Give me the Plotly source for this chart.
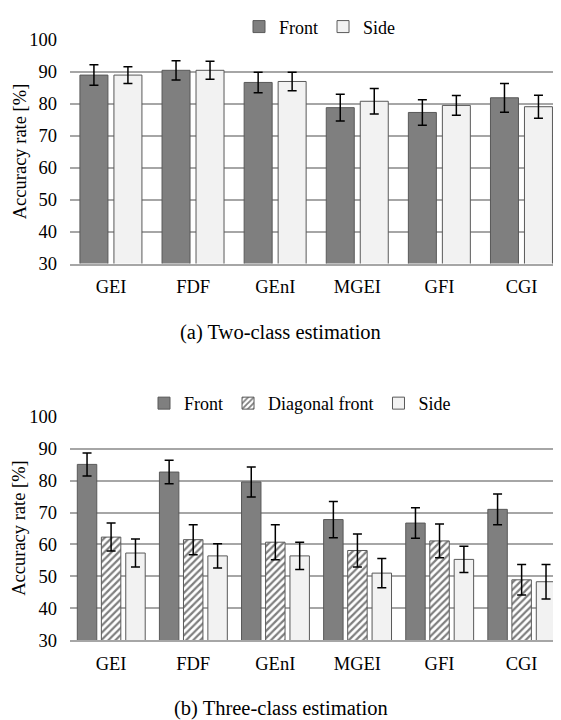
import plotly.graph_objects as go

categories = ["GEI", "FDF", "GEnI", "MGEI", "GFI", "CGI"]

# (a) Two-class estimation
two_front = [89.0, 90.5, 86.7, 78.8, 77.3, 81.9]
two_front_err = [3.2, 3.0, 3.2, 4.2, 4.0, 4.5]
two_side = [89.0, 90.5, 87.0, 80.8, 79.5, 79.1]
two_side_err = [2.6, 2.8, 2.9, 4.0, 3.1, 3.6]

# (b) Three-class estimation
three_front = [85.1, 82.7, 79.6, 67.8, 66.7, 71.0]
three_front_err = [3.6, 3.7, 4.7, 5.7, 4.8, 4.8]
three_diag = [62.3, 61.5, 60.7, 58.1, 61.1, 48.9]
three_diag_err = [4.4, 4.7, 5.5, 5.2, 5.3, 4.8]
three_side = [57.3, 56.4, 56.4, 51.0, 55.3, 48.3]
three_side_err = [4.4, 3.8, 4.3, 4.6, 4.1, 5.4]

y_ticks = [30, 40, 50, 60, 70, 80, 90, 100]

OFF = 8  # page body margin
W, H = 561 - OFF, 720 - OFF
L = 70 - OFF
PW = W - L
FONT = "Liberation Serif, Times New Roman, serif"
DARK = "#7f7f7f"
LIGHT = "#f2f2f2"
EDGE = "#595959"
GRID = "#a6a6a6"


def py(px):
    return 1 - (px - OFF) / H


def pxx(px):
    return (px - OFF - L) / PW


err_style = dict(type="data", color="black", thickness=1.5, width=4.5)

fig = go.Figure()

# top chart
fig.add_trace(go.Bar(x=categories, y=two_front, name="Front", width=0.341, offset=-0.379,
                     marker=dict(color=DARK, line=dict(color=EDGE, width=1)),
                     error_y=dict(array=two_front_err, **err_style),
                     xaxis="x", yaxis="y", legend="legend"))
fig.add_trace(go.Bar(x=categories, y=two_side, name="Side", width=0.341, offset=0.035,
                     marker=dict(color=LIGHT, line=dict(color=EDGE, width=1)),
                     error_y=dict(array=two_side_err, **err_style),
                     xaxis="x", yaxis="y", legend="legend"))

# bottom chart
fig.add_trace(go.Bar(x=categories, y=three_front, name="Front", width=0.237, offset=-0.411,
                     marker=dict(color=DARK, line=dict(color=EDGE, width=1)),
                     error_y=dict(array=three_front_err, **err_style),
                     xaxis="x2", yaxis="y2", legend="legend2"))
fig.add_trace(go.Bar(x=categories, y=three_diag, name="Diagonal front", width=0.237, offset=-0.118,
                     marker=dict(color="white", line=dict(color=EDGE, width=1),
                                 pattern=dict(shape="/", fgcolor="black", bgcolor="white",
                                              size=5, solidity=0.45, fillmode="overlay")),
                     error_y=dict(array=three_diag_err, **err_style),
                     xaxis="x2", yaxis="y2", legend="legend2"))
fig.add_trace(go.Bar(x=categories, y=three_side, name="Side", width=0.237, offset=0.179,
                     marker=dict(color=LIGHT, line=dict(color=EDGE, width=1)),
                     error_y=dict(array=three_side_err, **err_style),
                     xaxis="x2", yaxis="y2", legend="legend2"))

xcommon = dict(type="category", range=[-0.5, 5.48], domain=[0, 1], showgrid=False,
               showline=True, linecolor=GRID, linewidth=1.5, ticks="",
               tickfont=dict(family=FONT, size=18.5, color="black"),
               ticklabelstandoff=6, automargin=False, fixedrange=True)
ycommon = dict(range=[30, 100], tickvals=y_ticks, showgrid=True, gridcolor=GRID, gridwidth=1.5,
               zeroline=False, showline=False, ticks="",
               tickfont=dict(family=FONT, size=18.5, color="black"),
               ticklabelstandoff=12, automargin=False, fixedrange=True)

fig.update_layout(
    width=W, height=H,
    margin=dict(l=L, r=0, t=0, b=0),
    paper_bgcolor="white", plot_bgcolor="white",
    barmode="overlay",
    showlegend=True,
    font=dict(family=FONT, color="black"),
    xaxis=dict(anchor="y", **xcommon),
    yaxis=dict(anchor="x", domain=[py(255.7), py(28.3)], **ycommon),
    xaxis2=dict(anchor="y2", **xcommon),
    yaxis2=dict(anchor="x2", domain=[py(638.7), py(411.7)], **ycommon),
    legend=dict(orientation="h", x=pxx(320), y=py(15), xanchor="center", yanchor="middle",
                font=dict(family=FONT, size=18, color="black"), itemwidth=30,
                bgcolor="rgba(0,0,0,0)", traceorder="normal"),
    legend2=dict(orientation="h", x=pxx(300), y=py(398), xanchor="center", yanchor="middle",
                 font=dict(family=FONT, size=18, color="black"), itemwidth=30,
                 bgcolor="rgba(0,0,0,0)", traceorder="normal"),
    annotations=[
        dict(text="Accuracy rate [%]", textangle=-90, xref="paper", yref="paper",
             x=pxx(19.5), y=py(142), showarrow=False, xanchor="center", yanchor="middle",
             font=dict(family=FONT, size=18.5, color="black")),
        dict(text="Accuracy rate [%]", textangle=-90, xref="paper", yref="paper",
             x=pxx(19.5), y=py(525), showarrow=False, xanchor="center", yanchor="middle",
             font=dict(family=FONT, size=18.5, color="black")),
        dict(text="(a) Two-class estimation", xref="paper", yref="paper",
             x=pxx(280.5), y=py(326), showarrow=False, xanchor="center", yanchor="middle",
             font=dict(family=FONT, size=20.5, color="black")),
        dict(text="(b) Three-class estimation", xref="paper", yref="paper",
             x=pxx(280.5), y=py(708), showarrow=False, xanchor="center", yanchor="middle",
             font=dict(family=FONT, size=20.5, color="black")),
    ],
)

fig.write_html("out.html")
